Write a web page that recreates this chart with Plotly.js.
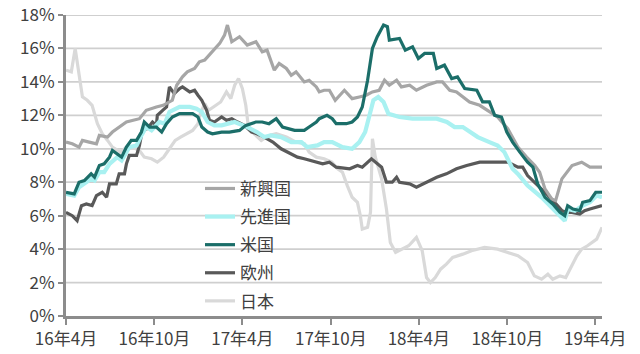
<!DOCTYPE html>
<html>
<head>
<meta charset="utf-8">
<script src="https://cdn.plot.ly/plotly-3.0.1.min.js"></script>
<style>html,body{margin:0;padding:0;background:#fff;}#chart{width:640px;height:354px;}</style>
</head>
<body>
<div id="chart"></div>
<script>
// ---- data (percent) ----
const seriesNames = ["新興国", "先進国", "米国", "欧州", "日本"];

const emDates = ["2016-04-01","2016-04-14","2016-04-28","2016-05-05","2016-05-19","2016-06-03","2016-06-09","2016-06-26","2016-07-06","2016-07-20","2016-08-04","2016-08-31","2016-09-14","2016-10-05","2016-10-19","2016-11-07","2016-11-16","2016-11-28","2016-12-08","2016-12-23","2017-01-02","2017-01-13","2017-01-29","2017-02-02","2017-02-13","2017-02-23","2017-03-01","2017-03-10","2017-03-26","2017-04-11","2017-04-29","2017-05-12","2017-05-22","2017-06-06","2017-06-16","2017-07-01","2017-07-11","2017-07-21","2017-08-07","2017-08-17","2017-09-01","2017-09-07","2017-09-17","2017-09-28","2017-10-10","2017-10-29","2017-11-14","2017-11-29","2017-12-13","2017-12-26","2018-01-09","2018-01-20","2018-01-30","2018-02-14","2018-02-24","2018-03-13","2018-03-27","2018-04-17","2018-05-08","2018-05-20","2018-06-04","2018-06-18","2018-07-01","2018-07-15","2018-08-05","2018-08-15","2018-09-01","2018-09-11","2018-10-02","2018-10-23","2018-11-10","2018-11-27","2018-12-07","2018-12-18","2019-01-01","2019-01-09","2019-01-22","2019-02-12","2019-03-04","2019-03-21","2019-04-15"];
const emValues = [10.4,10.3,10.1,10.5,10.4,10.3,10.8,10.7,11.0,11.3,11.6,11.8,12.3,12.5,12.6,12.9,13.8,14.3,14.6,14.8,15.2,15.3,15.8,15.9,16.3,16.8,17.4,16.4,16.7,16.2,16.4,15.8,15.9,14.7,15.1,14.8,14.4,14.6,14.0,14.1,13.7,13.4,13.5,13.5,12.9,13.5,13.0,13.1,13.2,13.4,13.5,14.1,13.8,14.1,13.7,13.8,13.5,13.8,14.0,14.0,13.5,13.4,13.1,12.8,12.6,12.4,12.1,11.9,11.2,10.1,9.5,9.0,8.6,7.6,7.0,6.9,8.2,9.0,9.2,8.9,8.9];

const dmDates = ["2016-04-01","2016-04-18","2016-04-28","2016-05-09","2016-05-23","2016-05-30","2016-06-09","2016-06-19","2016-06-30","2016-07-16","2016-07-25","2016-08-10","2016-08-25","2016-09-04","2016-09-14","2016-09-25","2016-10-11","2016-10-22","2016-11-01","2016-11-22","2016-12-13","2016-12-27","2017-01-07","2017-01-19","2017-02-02","2017-02-17","2017-03-16","2017-04-11","2017-05-01","2017-05-16","2017-05-30","2017-06-20","2017-07-11","2017-08-01","2017-08-13","2017-09-03","2017-09-17","2017-10-04","2017-10-25","2017-11-14","2017-11-29","2017-12-11","2017-12-20","2017-12-28","2018-01-07","2018-01-18","2018-01-28","2018-02-20","2018-03-19","2018-04-13","2018-05-08","2018-05-29","2018-06-14","2018-07-01","2018-07-15","2018-08-01","2018-08-25","2018-09-11","2018-09-25","2018-10-02","2018-10-12","2018-10-23","2018-11-12","2018-12-11","2019-01-03","2019-01-22","2019-01-28","2019-02-03","2019-02-18","2019-03-06","2019-03-21","2019-04-04","2019-04-15"];
const dmValues = [7.3,7.2,7.7,7.9,8.2,8.1,8.6,8.6,9.1,9.5,9.3,10.1,10.2,10.8,11.3,11.1,11.6,11.5,12.2,12.5,12.5,12.4,12.2,11.6,11.4,11.4,11.6,11.3,11.0,10.7,10.8,10.7,10.4,10.4,10.1,10.2,10.4,10.4,10.1,10.0,10.4,11.0,11.9,12.9,13.1,12.8,12.1,11.9,11.8,11.8,11.8,11.6,11.3,11.3,11.0,10.7,10.4,10.2,9.8,9.4,8.8,8.5,7.8,7.1,6.4,5.8,5.7,6.4,6.3,6.6,6.8,7.2,7.1];

const usDates = ["2016-04-01","2016-04-18","2016-04-28","2016-05-09","2016-05-23","2016-05-30","2016-06-09","2016-06-19","2016-06-30","2016-07-06","2016-07-25","2016-08-04","2016-08-14","2016-08-25","2016-09-04","2016-09-10","2016-09-21","2016-10-05","2016-10-16","2016-10-26","2016-11-07","2016-11-22","2016-12-19","2016-12-30","2017-01-07","2017-01-19","2017-01-29","2017-02-17","2017-03-05","2017-03-26","2017-04-08","2017-04-29","2017-05-12","2017-05-26","2017-06-10","2017-06-23","2017-07-18","2017-08-07","2017-08-17","2017-09-01","2017-09-07","2017-09-23","2017-10-04","2017-10-12","2017-11-02","2017-11-14","2017-11-25","2017-12-05","2017-12-16","2017-12-26","2018-01-05","2018-01-18","2018-01-26","2018-01-30","2018-02-20","2018-03-04","2018-03-19","2018-03-31","2018-04-13","2018-05-01","2018-05-08","2018-05-24","2018-06-08","2018-06-20","2018-07-05","2018-07-30","2018-08-11","2018-08-25","2018-09-05","2018-09-19","2018-09-30","2018-10-12","2018-10-27","2018-11-12","2018-11-23","2018-12-03","2018-12-18","2019-01-03","2019-01-18","2019-01-28","2019-02-03","2019-02-14","2019-02-28","2019-03-06","2019-03-21","2019-04-02","2019-04-15"];
const usValues = [7.4,7.3,8.0,8.1,8.5,8.3,9.0,9.1,9.5,9.9,9.5,10.1,10.5,10.5,11.0,11.6,11.3,11.3,11.0,11.5,11.9,12.1,12.1,11.9,11.3,11.0,10.9,11.0,11.0,11.1,11.4,11.6,11.6,11.5,11.8,11.3,11.1,11.1,11.3,11.6,11.8,12.0,11.8,11.5,11.5,11.6,11.9,12.5,14.1,16.0,16.7,17.4,17.3,16.5,16.6,15.9,16.1,15.4,15.7,15.7,14.8,15.0,14.2,14.3,13.6,13.5,12.8,12.8,12.0,11.9,11.0,10.4,9.8,9.2,8.9,7.9,7.1,6.7,6.2,6.0,6.6,6.4,6.3,6.8,6.9,7.4,7.4];

const euDates = ["2016-04-01","2016-04-14","2016-04-24","2016-05-03","2016-05-13","2016-05-25","2016-06-03","2016-06-15","2016-06-24","2016-06-30","2016-07-14","2016-07-20","2016-07-31","2016-08-04","2016-08-10","2016-08-25","2016-08-31","2016-09-06","2016-09-16","2016-09-27","2016-10-05","2016-10-07","2016-10-18","2016-10-26","2016-11-01","2016-11-11","2016-11-22","2016-11-28","2016-12-13","2016-12-23","2016-12-30","2017-01-07","2017-01-17","2017-01-23","2017-02-02","2017-02-17","2017-02-27","2017-03-10","2017-03-22","2017-04-05","2017-04-20","2017-05-01","2017-05-16","2017-06-03","2017-06-20","2017-07-11","2017-07-24","2017-08-07","2017-08-29","2017-09-14","2017-09-28","2017-10-12","2017-11-09","2017-11-25","2017-12-05","2017-12-16","2017-12-24","2018-01-14","2018-01-24","2018-02-05","2018-02-14","2018-02-20","2018-03-13","2018-03-27","2018-04-17","2018-05-08","2018-05-28","2018-06-18","2018-07-09","2018-08-05","2018-09-11","2018-10-02","2018-10-23","2018-11-02","2018-11-12","2018-11-27","2018-12-11","2018-12-21","2019-01-07","2019-01-22","2019-02-01","2019-02-12","2019-02-28","2019-03-10","2019-03-21","2019-04-01","2019-04-15"];
const euValues = [6.2,6.0,5.7,6.6,6.7,6.6,7.2,7.4,7.1,7.9,7.9,8.5,8.5,9.1,9.6,9.6,10.2,11.1,11.2,11.6,11.4,12.0,12.3,12.5,13.7,13.3,13.6,13.7,13.4,13.5,13.2,12.9,12.3,11.7,11.6,11.9,11.7,11.8,11.6,11.4,11.0,10.9,10.7,10.4,10.0,9.7,9.5,9.4,9.2,9.1,9.2,8.9,8.8,9.0,8.9,9.2,9.4,8.9,8.0,8.0,8.3,8.0,7.9,7.7,8.0,8.3,8.5,8.8,9.0,9.2,9.2,9.2,8.9,8.9,8.4,8.0,7.6,7.3,6.8,6.3,6.2,6.2,6.1,6.3,6.4,6.5,6.6];

const jpDates = ["2016-04-01","2016-04-12","2016-04-20","2016-04-26","2016-05-05","2016-05-15","2016-05-25","2016-06-05","2016-06-15","2016-06-26","2016-07-06","2016-07-23","2016-08-04","2016-08-16","2016-08-31","2016-09-10","2016-09-25","2016-10-07","2016-10-20","2016-11-01","2016-11-13","2016-11-24","2016-12-19","2016-12-30","2017-01-04","2017-01-13","2017-01-21","2017-01-31","2017-02-15","2017-02-27","2017-03-08","2017-03-16","2017-03-24","2017-04-01","2017-04-08","2017-04-13","2017-04-25","2017-05-10","2017-05-26","2017-06-10","2017-07-01","2017-07-21","2017-08-07","2017-08-17","2017-09-01","2017-09-17","2017-10-03","2017-10-15","2017-10-25","2017-11-04","2017-11-14","2017-11-25","2017-12-01","2017-12-05","2017-12-16","2017-12-22","2017-12-26","2018-01-01","2018-01-14","2018-01-24","2018-02-01","2018-02-12","2018-02-24","2018-03-11","2018-03-27","2018-04-08","2018-04-17","2018-04-25","2018-05-05","2018-05-16","2018-05-28","2018-06-10","2018-07-01","2018-07-19","2018-08-15","2018-09-11","2018-10-02","2018-10-23","2018-11-12","2018-11-26","2018-12-11","2018-12-24","2019-01-03","2019-01-18","2019-01-30","2019-02-12","2019-02-22","2019-03-04","2019-03-16","2019-04-04","2019-04-15"];
const jpValues = [14.7,14.6,16.0,14.9,13.1,12.9,12.6,11.5,10.9,10.5,10.1,9.8,10.1,10.1,9.9,9.5,9.4,9.2,9.5,10.0,10.5,10.7,11.1,11.5,12.1,12.7,12.3,12.5,12.8,13.4,13.0,13.8,14.2,13.6,12.6,11.4,10.9,10.5,10.8,10.9,10.7,10.4,10.3,9.8,9.5,9.4,9.2,8.8,8.6,7.8,7.1,6.8,6.0,5.2,5.3,6.2,10.6,9.5,8.2,6.4,4.4,3.8,4.0,4.2,4.7,3.9,2.3,2.0,2.3,2.8,3.1,3.5,3.7,3.9,4.1,4.0,3.8,3.6,3.2,2.4,2.2,2.5,2.2,2.4,2.3,3.0,3.6,4.0,4.2,4.6,5.3];

const xTickVals = ["2016-04-01","2016-10-01","2017-04-01","2017-10-01","2018-04-01","2018-10-01","2019-04-01"];
const xTickText = ["16年4月","16年10月","17年4月","17年10月","18年4月","18年10月","19年4月"];
const yTickVals = [0,2,4,6,8,10,12,14,16,18];
const yTickText = ["0%","2%","4%","6%","8%","10%","12%","14%","16%","18%"];
const xRange = ["2016-04-01","2019-04-15"];

// ---- styles ----
const colors = {"新興国":"#A6A6A6","先進国":"#A9F1F1","米国":"#1B6E69","欧州":"#595959","日本":"#D9D9D9"};
const widths = {"新興国":3.2,"先進国":4.2,"米国":3.2,"欧州":3.2,"日本":3.2};
const rank = {"新興国":1,"先進国":2,"米国":3,"欧州":4,"日本":5};

function mk(name, xs, ys){
  return {type:"scatter", mode:"lines", name:name, x:xs, y:ys,
    line:{color:colors[name], width:widths[name]},
    legendrank:rank[name], legendgroup:name, hoverinfo:"skip"};
}
// horizontal gridlines drawn as line traces across the x range
const gridTraces = yTickVals.filter(v => v > 0).map(v => ({
  type:"scatter", mode:"lines", x:xRange, y:[v, v], showlegend:false, hoverinfo:"skip",
  line:{color:"#CFCFCF", width:1.8}
}));
const data = gridTraces.concat([
  mk("日本", jpDates, jpValues),
  mk("欧州", euDates, euValues),
  mk("新興国", emDates, emValues),
  mk("先進国", dmDates, dmValues),
  mk("米国", usDates, usValues)
]);

const font = "'Noto Sans CJK JP', 'Noto Sans', sans-serif";
const layout = {
  width:640, height:354,
  margin:{l:66, r:38, t:15, b:38, pad:0},
  paper_bgcolor:"#fff", plot_bgcolor:"#fff",
  font:{family:font, size:16, color:"#404040"},
  showlegend:true,
  legend:{x:0.25, y:0.482, xanchor:"left", yanchor:"top", bgcolor:"rgba(0,0,0,0)",
    font:{family:font, size:17, color:"#404040"}, traceorder:"grouped", tracegroupgap:3},
  xaxis:{type:"date", range:xRange, tickvals:xTickVals, ticktext:xTickText,
    showgrid:false, zeroline:false, showline:true, linecolor:"#8C8C8C", linewidth:3,
    ticks:"outside", ticklen:6, tickwidth:2, tickcolor:"#8C8C8C",
    tickfont:{family:font, size:17, color:"#404040"}, fixedrange:true},
  yaxis:{range:[0,18], tickvals:yTickVals, ticktext:yTickText,
    showgrid:false,
    zeroline:false, showline:true, linecolor:"#8C8C8C", linewidth:3,
    ticks:"outside", ticklen:5, tickwidth:2, tickcolor:"#8C8C8C",
    tickfont:{family:font, size:17, color:"#404040"}, fixedrange:true}
};
Plotly.newPlot("chart", data, layout, {staticPlot:true, displayModeBar:false});
</script>
</body>
</html>
